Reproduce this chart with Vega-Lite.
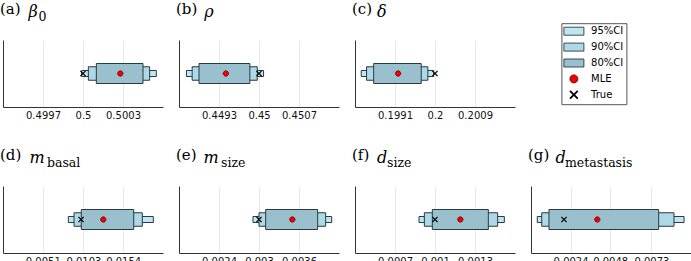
{
  "$schema": "https://vega.github.io/schema/vega-lite/v6.json",
  "padding": {"left": 0, "top": 1, "right": 0, "bottom": 0},
  "datasets": {
    "ci": [
      {"param": "beta0", "series": "95%CI", "lo": 0.49999, "hi": 0.50055},
      {"param": "beta0", "series": "90%CI", "lo": 0.50004, "hi": 0.50050},
      {"param": "beta0", "series": "80%CI", "lo": 0.50010, "hi": 0.50045},
      {"param": "beta0", "series": "MLE", "value": 0.50028},
      {"param": "beta0", "series": "True", "value": 0.5},
      {"param": "rho", "series": "95%CI", "lo": 0.44873, "hi": 0.45008},
      {"param": "rho", "series": "90%CI", "lo": 0.44883, "hi": 0.44997},
      {"param": "rho", "series": "80%CI", "lo": 0.44895, "hi": 0.44984},
      {"param": "rho", "series": "MLE", "value": 0.44942},
      {"param": "rho", "series": "True", "value": 0.45},
      {"param": "delta", "series": "95%CI", "lo": 0.19834, "hi": 0.19997},
      {"param": "delta", "series": "90%CI", "lo": 0.19846, "hi": 0.19984},
      {"param": "delta", "series": "80%CI", "lo": 0.19862, "hi": 0.19969},
      {"param": "delta", "series": "MLE", "value": 0.19917},
      {"param": "delta", "series": "True", "value": 0.2},
      {"param": "m_basal", "series": "95%CI", "lo": 0.00837, "hi": 0.01926},
      {"param": "m_basal", "series": "90%CI", "lo": 0.00910, "hi": 0.01785},
      {"param": "m_basal", "series": "80%CI", "lo": 0.01003, "hi": 0.01675},
      {"param": "m_basal", "series": "MLE", "value": 0.01285},
      {"param": "m_basal", "series": "True", "value": 0.01},
      {"param": "m_size", "series": "95%CI", "lo": 0.00291, "hi": 0.00409},
      {"param": "m_size", "series": "90%CI", "lo": 0.00300, "hi": 0.00400},
      {"param": "m_size", "series": "80%CI", "lo": 0.00310, "hi": 0.00388},
      {"param": "m_size", "series": "MLE", "value": 0.00350},
      {"param": "m_size", "series": "True", "value": 0.003},
      {"param": "d_size", "series": "95%CI", "lo": 0.00088, "hi": 0.00152},
      {"param": "d_size", "series": "90%CI", "lo": 0.00092, "hi": 0.00147},
      {"param": "d_size", "series": "80%CI", "lo": 0.00098, "hi": 0.00140},
      {"param": "d_size", "series": "MLE", "value": 0.00119},
      {"param": "d_size", "series": "True", "value": 0.001},
      {"param": "d_metastasis", "series": "95%CI", "lo": 0.00038, "hi": 0.00928},
      {"param": "d_metastasis", "series": "90%CI", "lo": 0.00065, "hi": 0.00867},
      {"param": "d_metastasis", "series": "80%CI", "lo": 0.00109, "hi": 0.00774},
      {"param": "d_metastasis", "series": "MLE", "value": 0.00402},
      {"param": "d_metastasis", "series": "True", "value": 0.002}
    ]
  },
  "bounds": "flush",
  "spacing": 146,
  "resolve": {
    "scale": {"fill": "independent", "stroke": "independent", "shape": "independent", "size": "independent"},
    "legend": {"fill": "independent", "stroke": "independent", "shape": "independent", "size": "independent"}
  },
  "vconcat": [
    {
      "bounds": "flush",
      "spacing": 16,
      "resolve": {
        "scale": {"fill": "independent", "stroke": "independent", "shape": "independent", "size": "independent"},
        "legend": {"fill": "independent", "stroke": "independent", "shape": "independent", "size": "independent"}
      },
      "hconcat": [
        {
          "width": 160, "height": 67,
          "title": "(a)",
          "data": {"name": "ci"},
          "transform": [{"filter": "datum.param === 'beta0'"}],
          "encoding": {
            "y": {"field": "param", "type": "nominal", "axis": {"title": "0", "titleX": 35}},
            "fill": {"field": "series", "type": "nominal", "scale": {"domain": ["95%CI", "90%CI", "80%CI", "MLE", "True"], "range": ["#BFE6F3", "#ADD8E6", "#9AC0CD", "#EE0000", "#000000"]}, "legend": null},
            "stroke": {"field": "series", "type": "nominal", "scale": {"domain": ["95%CI", "90%CI", "80%CI", "MLE", "True"], "range": ["#2b3a40", "#2b3a40", "#2b3a40", "#7a0000", "transparent"]}, "legend": null}
          },
          "layer": [
            {
              "transform": [{"filter": "isValid(datum.lo)"}],
              "mark": {"type": "bar", "strokeWidth": 1},
              "encoding": {
                "x": {"field": "lo", "type": "quantitative", "scale": {"domain": [0.4994, 0.5006], "nice": false, "zero": false}, "axis": {"title": "β", "titleX": 25, "values": [0.4997, 0.5, 0.5003]}},
                "x2": {"field": "hi"},
                "size": {"field": "series", "type": "nominal", "scale": {"type": "ordinal", "domain": ["95%CI", "90%CI", "80%CI"], "range": [6, 13.5, 20]}, "legend": null}
              }
            },
            {
              "transform": [{"filter": "isValid(datum.value)"}],
              "mark": {"type": "point", "filled": true, "opacity": 1, "strokeWidth": 0.8, "size": 45},
              "encoding": {
                "x": {"field": "value", "type": "quantitative"},
                "shape": {"field": "series", "type": "nominal", "scale": {"domain": ["95%CI", "90%CI", "80%CI", "MLE", "True"], "range": ["M-2,-0.8H2V0.8H-2Z", "M-2,-0.8H2V0.8H-2Z", "M-2,-0.8H2V0.8H-2Z", "M-0.8,0A0.8,0.8,0,1,0,0.8,0A0.8,0.8,0,1,0,-0.8,0Z", "M-0.9,-0.64L-0.64,-0.9L0,-0.26L0.64,-0.9L0.9,-0.64L0.26,0L0.9,0.64L0.64,0.9L0,0.26L-0.64,0.9L-0.9,0.64L-0.26,0Z"]}, "legend": null}
              }
            }
          ]
        },
        {
          "width": 160, "height": 67,
          "title": "(b)",
          "data": {"name": "ci"},
          "transform": [{"filter": "datum.param === 'rho'"}],
          "encoding": {
            "y": {"field": "param", "type": "nominal", "axis": {"title": null}},
            "fill": {"field": "series", "type": "nominal", "scale": {"domain": ["95%CI", "90%CI", "80%CI", "MLE", "True"], "range": ["#BFE6F3", "#ADD8E6", "#9AC0CD", "#EE0000", "#000000"]}, "legend": null},
            "stroke": {"field": "series", "type": "nominal", "scale": {"domain": ["95%CI", "90%CI", "80%CI", "MLE", "True"], "range": ["#2b3a40", "#2b3a40", "#2b3a40", "#7a0000", "transparent"]}, "legend": null}
          },
          "layer": [
            {
              "transform": [{"filter": "isValid(datum.lo)"}],
              "mark": {"type": "bar", "strokeWidth": 1},
              "encoding": {
                "x": {"field": "lo", "type": "quantitative", "scale": {"domain": [0.4486, 0.4514], "nice": false, "zero": false}, "axis": {"title": "ρ", "titleX": 24.7, "values": [0.4493, 0.45, 0.4507]}},
                "x2": {"field": "hi"},
                "size": {"field": "series", "type": "nominal", "scale": {"type": "ordinal", "domain": ["95%CI", "90%CI", "80%CI"], "range": [6, 13.5, 20]}, "legend": null}
              }
            },
            {
              "transform": [{"filter": "isValid(datum.value)"}],
              "mark": {"type": "point", "filled": true, "opacity": 1, "strokeWidth": 0.8, "size": 45},
              "encoding": {
                "x": {"field": "value", "type": "quantitative"},
                "shape": {"field": "series", "type": "nominal", "scale": {"domain": ["95%CI", "90%CI", "80%CI", "MLE", "True"], "range": ["M-2,-0.8H2V0.8H-2Z", "M-2,-0.8H2V0.8H-2Z", "M-2,-0.8H2V0.8H-2Z", "M-0.8,0A0.8,0.8,0,1,0,0.8,0A0.8,0.8,0,1,0,-0.8,0Z", "M-0.9,-0.64L-0.64,-0.9L0,-0.26L0.64,-0.9L0.9,-0.64L0.26,0L0.9,0.64L0.64,0.9L0,0.26L-0.64,0.9L-0.9,0.64L-0.26,0Z"]}, "legend": null}
              }
            }
          ]
        },
        {
          "width": 160, "height": 67,
          "title": "(c)",
          "data": {"name": "ci"},
          "transform": [{"filter": "datum.param === 'delta'"}],
          "encoding": {
            "y": {"field": "param", "type": "nominal", "axis": {"title": null}},
            "fill": {"field": "series", "type": "nominal", "scale": {"domain": ["95%CI", "90%CI", "80%CI", "MLE", "True"], "range": ["#BFE6F3", "#ADD8E6", "#9AC0CD", "#EE0000", "#000000"]}, "legend": {"title": null, "orient": "none", "legendX": 206.4, "legendY": -16.8}},
            "stroke": {"field": "series", "type": "nominal", "scale": {"domain": ["95%CI", "90%CI", "80%CI", "MLE", "True"], "range": ["#2b3a40", "#2b3a40", "#2b3a40", "#7a0000", "transparent"]}, "legend": {"title": null, "orient": "none", "legendX": 206.4, "legendY": -16.8}}
          },
          "layer": [
            {
              "transform": [{"filter": "isValid(datum.lo)"}],
              "mark": {"type": "bar", "strokeWidth": 1},
              "encoding": {
                "x": {"field": "lo", "type": "quantitative", "scale": {"domain": [0.1982, 0.2018], "nice": false, "zero": false}, "axis": {"title": "δ", "titleX": 21.5, "values": [0.1991, 0.2, 0.2009]}},
                "x2": {"field": "hi"},
                "size": {"field": "series", "type": "nominal", "scale": {"type": "ordinal", "domain": ["95%CI", "90%CI", "80%CI"], "range": [6, 13.5, 20]}, "legend": null}
              }
            },
            {
              "transform": [{"filter": "isValid(datum.value)"}],
              "mark": {"type": "point", "filled": true, "opacity": 1, "strokeWidth": 0.8, "size": 45},
              "encoding": {
                "x": {"field": "value", "type": "quantitative"},
                "shape": {"field": "series", "type": "nominal", "scale": {"domain": ["95%CI", "90%CI", "80%CI", "MLE", "True"], "range": ["M-2,-0.8H2V0.8H-2Z", "M-2,-0.8H2V0.8H-2Z", "M-2,-0.8H2V0.8H-2Z", "M-0.8,0A0.8,0.8,0,1,0,0.8,0A0.8,0.8,0,1,0,-0.8,0Z", "M-0.9,-0.64L-0.64,-0.9L0,-0.26L0.64,-0.9L0.9,-0.64L0.26,0L0.9,0.64L0.64,0.9L0,0.26L-0.64,0.9L-0.9,0.64L-0.26,0Z"]}, "legend": {"title": null, "orient": "none", "legendX": 206.4, "legendY": -16.8}}
              }
            }
          ]
        }
      ]
    },
    {
      "bounds": "flush",
      "spacing": 16,
      "resolve": {
        "scale": {"fill": "independent", "stroke": "independent", "shape": "independent", "size": "independent"},
        "legend": {"fill": "independent", "stroke": "independent", "shape": "independent", "size": "independent"}
      },
      "hconcat": [
        {
          "width": 160, "height": 67,
          "title": "(d)",
          "data": {"name": "ci"},
          "transform": [{"filter": "datum.param === 'm_basal'"}],
          "encoding": {
            "y": {"field": "param", "type": "nominal", "axis": {"title": "basal", "titleX": 43.5}},
            "fill": {"field": "series", "type": "nominal", "scale": {"domain": ["95%CI", "90%CI", "80%CI", "MLE", "True"], "range": ["#BFE6F3", "#ADD8E6", "#9AC0CD", "#EE0000", "#000000"]}, "legend": null},
            "stroke": {"field": "series", "type": "nominal", "scale": {"domain": ["95%CI", "90%CI", "80%CI", "MLE", "True"], "range": ["#2b3a40", "#2b3a40", "#2b3a40", "#7a0000", "transparent"]}, "legend": null}
          },
          "layer": [
            {
              "transform": [{"filter": "isValid(datum.lo)"}],
              "mark": {"type": "bar", "strokeWidth": 1},
              "encoding": {
                "x": {"field": "lo", "type": "quantitative", "scale": {"domain": [0, 0.0205], "nice": false, "zero": false}, "axis": {"title": "m", "titleX": 26, "values": [0.0051, 0.0103, 0.0154]}},
                "x2": {"field": "hi"},
                "size": {"field": "series", "type": "nominal", "scale": {"type": "ordinal", "domain": ["95%CI", "90%CI", "80%CI"], "range": [6, 13.5, 20]}, "legend": null}
              }
            },
            {
              "transform": [{"filter": "isValid(datum.value)"}],
              "mark": {"type": "point", "filled": true, "opacity": 1, "strokeWidth": 0.8, "size": 45},
              "encoding": {
                "x": {"field": "value", "type": "quantitative"},
                "shape": {"field": "series", "type": "nominal", "scale": {"domain": ["95%CI", "90%CI", "80%CI", "MLE", "True"], "range": ["M-2,-0.8H2V0.8H-2Z", "M-2,-0.8H2V0.8H-2Z", "M-2,-0.8H2V0.8H-2Z", "M-0.8,0A0.8,0.8,0,1,0,0.8,0A0.8,0.8,0,1,0,-0.8,0Z", "M-0.9,-0.64L-0.64,-0.9L0,-0.26L0.64,-0.9L0.9,-0.64L0.26,0L0.9,0.64L0.64,0.9L0,0.26L-0.64,0.9L-0.9,0.64L-0.26,0Z"]}, "legend": null}
              }
            }
          ]
        },
        {
          "width": 160, "height": 67,
          "title": "(e)",
          "data": {"name": "ci"},
          "transform": [{"filter": "datum.param === 'm_size'"}],
          "encoding": {
            "y": {"field": "param", "type": "nominal", "axis": {"title": "size", "titleX": 41.5}},
            "fill": {"field": "series", "type": "nominal", "scale": {"domain": ["95%CI", "90%CI", "80%CI", "MLE", "True"], "range": ["#BFE6F3", "#ADD8E6", "#9AC0CD", "#EE0000", "#000000"]}, "legend": null},
            "stroke": {"field": "series", "type": "nominal", "scale": {"domain": ["95%CI", "90%CI", "80%CI", "MLE", "True"], "range": ["#2b3a40", "#2b3a40", "#2b3a40", "#7a0000", "transparent"]}, "legend": null}
          },
          "layer": [
            {
              "transform": [{"filter": "isValid(datum.lo)"}],
              "mark": {"type": "bar", "strokeWidth": 1},
              "encoding": {
                "x": {"field": "lo", "type": "quantitative", "scale": {"domain": [0.0018, 0.0042], "nice": false, "zero": false}, "axis": {"title": "m", "titleX": 24, "values": [0.0024, 0.003, 0.0036]}},
                "x2": {"field": "hi"},
                "size": {"field": "series", "type": "nominal", "scale": {"type": "ordinal", "domain": ["95%CI", "90%CI", "80%CI"], "range": [6, 13.5, 20]}, "legend": null}
              }
            },
            {
              "transform": [{"filter": "isValid(datum.value)"}],
              "mark": {"type": "point", "filled": true, "opacity": 1, "strokeWidth": 0.8, "size": 45},
              "encoding": {
                "x": {"field": "value", "type": "quantitative"},
                "shape": {"field": "series", "type": "nominal", "scale": {"domain": ["95%CI", "90%CI", "80%CI", "MLE", "True"], "range": ["M-2,-0.8H2V0.8H-2Z", "M-2,-0.8H2V0.8H-2Z", "M-2,-0.8H2V0.8H-2Z", "M-0.8,0A0.8,0.8,0,1,0,0.8,0A0.8,0.8,0,1,0,-0.8,0Z", "M-0.9,-0.64L-0.64,-0.9L0,-0.26L0.64,-0.9L0.9,-0.64L0.26,0L0.9,0.64L0.64,0.9L0,0.26L-0.64,0.9L-0.9,0.64L-0.26,0Z"]}, "legend": null}
              }
            }
          ]
        },
        {
          "width": 160, "height": 67,
          "title": "(f)",
          "data": {"name": "ci"},
          "transform": [{"filter": "datum.param === 'd_size'"}],
          "encoding": {
            "y": {"field": "param", "type": "nominal", "axis": {"title": "size", "titleX": 31.5}},
            "fill": {"field": "series", "type": "nominal", "scale": {"domain": ["95%CI", "90%CI", "80%CI", "MLE", "True"], "range": ["#BFE6F3", "#ADD8E6", "#9AC0CD", "#EE0000", "#000000"]}, "legend": null},
            "stroke": {"field": "series", "type": "nominal", "scale": {"domain": ["95%CI", "90%CI", "80%CI", "MLE", "True"], "range": ["#2b3a40", "#2b3a40", "#2b3a40", "#7a0000", "transparent"]}, "legend": null}
          },
          "layer": [
            {
              "transform": [{"filter": "isValid(datum.lo)"}],
              "mark": {"type": "bar", "strokeWidth": 1},
              "encoding": {
                "x": {"field": "lo", "type": "quantitative", "scale": {"domain": [0.0004, 0.0016], "nice": false, "zero": false}, "axis": {"title": "d", "titleX": 21.5, "values": [0.0007, 0.001, 0.0013]}},
                "x2": {"field": "hi"},
                "size": {"field": "series", "type": "nominal", "scale": {"type": "ordinal", "domain": ["95%CI", "90%CI", "80%CI"], "range": [6, 13.5, 20]}, "legend": null}
              }
            },
            {
              "transform": [{"filter": "isValid(datum.value)"}],
              "mark": {"type": "point", "filled": true, "opacity": 1, "strokeWidth": 0.8, "size": 45},
              "encoding": {
                "x": {"field": "value", "type": "quantitative"},
                "shape": {"field": "series", "type": "nominal", "scale": {"domain": ["95%CI", "90%CI", "80%CI", "MLE", "True"], "range": ["M-2,-0.8H2V0.8H-2Z", "M-2,-0.8H2V0.8H-2Z", "M-2,-0.8H2V0.8H-2Z", "M-0.8,0A0.8,0.8,0,1,0,0.8,0A0.8,0.8,0,1,0,-0.8,0Z", "M-0.9,-0.64L-0.64,-0.9L0,-0.26L0.64,-0.9L0.9,-0.64L0.26,0L0.9,0.64L0.64,0.9L0,0.26L-0.64,0.9L-0.9,0.64L-0.26,0Z"]}, "legend": null}
              }
            }
          ]
        },
        {
          "width": 160, "height": 67,
          "title": "(g)",
          "data": {"name": "ci"},
          "transform": [{"filter": "datum.param === 'd_metastasis'"}],
          "encoding": {
            "y": {"field": "param", "type": "nominal", "axis": {"title": "metastasis", "titleX": 33.5}},
            "fill": {"field": "series", "type": "nominal", "scale": {"domain": ["95%CI", "90%CI", "80%CI", "MLE", "True"], "range": ["#BFE6F3", "#ADD8E6", "#9AC0CD", "#EE0000", "#000000"]}, "legend": null},
            "stroke": {"field": "series", "type": "nominal", "scale": {"domain": ["95%CI", "90%CI", "80%CI", "MLE", "True"], "range": ["#2b3a40", "#2b3a40", "#2b3a40", "#7a0000", "transparent"]}, "legend": null}
          },
          "layer": [
            {
              "transform": [{"filter": "isValid(datum.lo)"}],
              "mark": {"type": "bar", "strokeWidth": 1},
              "encoding": {
                "x": {"field": "lo", "type": "quantitative", "scale": {"domain": [0, 0.0097], "nice": false, "zero": false}, "axis": {"title": "d", "titleX": 24, "values": [0.0024, 0.0048, 0.0073]}},
                "x2": {"field": "hi"},
                "size": {"field": "series", "type": "nominal", "scale": {"type": "ordinal", "domain": ["95%CI", "90%CI", "80%CI"], "range": [6, 13.5, 20]}, "legend": null}
              }
            },
            {
              "transform": [{"filter": "isValid(datum.value)"}],
              "mark": {"type": "point", "filled": true, "opacity": 1, "strokeWidth": 0.8, "size": 45},
              "encoding": {
                "x": {"field": "value", "type": "quantitative"},
                "shape": {"field": "series", "type": "nominal", "scale": {"domain": ["95%CI", "90%CI", "80%CI", "MLE", "True"], "range": ["M-2,-0.8H2V0.8H-2Z", "M-2,-0.8H2V0.8H-2Z", "M-2,-0.8H2V0.8H-2Z", "M-0.8,0A0.8,0.8,0,1,0,0.8,0A0.8,0.8,0,1,0,-0.8,0Z", "M-0.9,-0.64L-0.64,-0.9L0,-0.26L0.64,-0.9L0.9,-0.64L0.26,0L0.9,0.64L0.64,0.9L0,0.26L-0.64,0.9L-0.9,0.64L-0.26,0Z"]}, "legend": null}
              }
            }
          ]
        }
      ]
    }
  ],
  "config": {
    "view": {"stroke": null},
    "font": "DejaVu Sans",
    "title": {"anchor": "start", "frame": "group", "font": "DejaVu Serif", "fontSize": 15, "fontWeight": "normal", "color": "#000000", "baseline": "alphabetic", "offset": -13, "dx": -3},
    "axisX": {"grid": true, "gridColor": "#e8e8e8", "gridWidth": 1, "ticks": false, "domainColor": "#333333", "domainWidth": 1, "labelFont": "DejaVu Sans", "labelFontSize": 10, "labelColor": "#111111", "labelPadding": 3, "labelOverlap": false, "labelFlush": false, "format": ".4~f", "titleFont": "DejaVu Serif", "titleFontStyle": "italic", "titleFontSize": 16, "titleFontWeight": "normal", "titleColor": "#000000", "titleAlign": "left", "titleBaseline": "alphabetic", "titleAngle": 0, "titleY": -90.5},
    "axisY": {"grid": false, "ticks": false, "labels": false, "domainColor": "#333333", "domainWidth": 1, "titleFont": "DejaVu Serif", "titleFontSize": 12.5, "titleFontWeight": "normal", "titleColor": "#000000", "titleAlign": "left", "titleBaseline": "alphabetic", "titleAngle": 0, "titleY": -20},
    "legend": {"symbolSize": 100, "symbolOffset": 4.5, "padding": 2.5, "rowPadding": 2.9, "labelOffset": 11.7, "labelFont": "DejaVu Sans", "labelFontSize": 10, "labelColor": "#000000", "strokeColor": "#555555", "fillColor": "#ffffff", "symbolOpacity": 1, "symbolStrokeWidth": 0.9}
  }
}
